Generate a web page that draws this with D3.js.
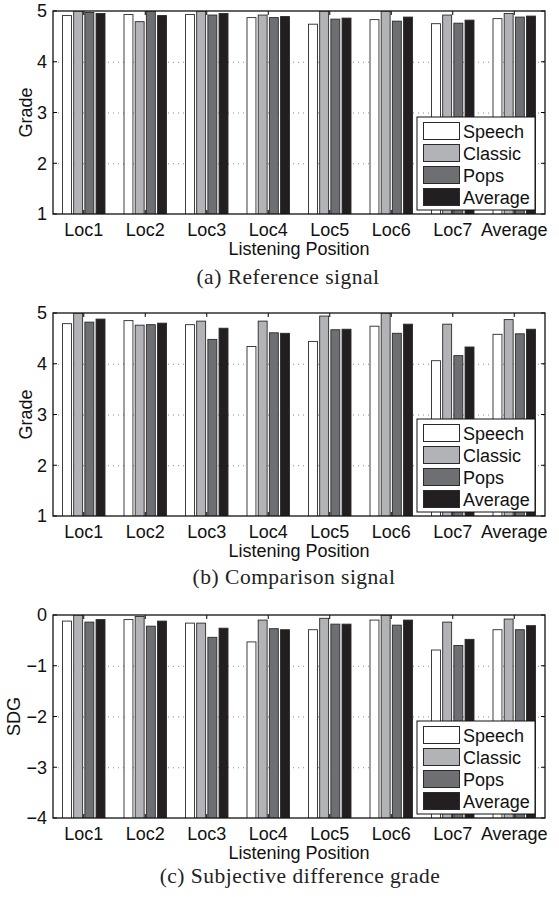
<!DOCTYPE html>
<html>
<head>
<meta charset="utf-8">
<script src="https://cdn.jsdelivr.net/npm/d3@7"></script>
<style>
  html, body { margin: 0; padding: 0; background: #fff; }
  svg { display: block; }
</style>
</head>
<body>
<svg id="chart" width="559" height="897"></svg>
<script>
// ---- data ----
const categories = ["Loc1", "Loc2", "Loc3", "Loc4", "Loc5", "Loc6", "Loc7", "Average"];
const seriesNames = ["Speech", "Classic", "Pops", "Average"];

const refSpeech  = [4.91, 4.93, 4.93, 4.87, 4.74, 4.83, 4.75, 4.85];
const refClassic = [5.00, 4.79, 5.00, 4.92, 5.00, 5.00, 4.92, 4.95];
const refPops    = [4.97, 5.00, 4.92, 4.87, 4.84, 4.80, 4.76, 4.88];
const refAverage = [4.95, 4.91, 4.95, 4.89, 4.86, 4.88, 4.82, 4.90];

const cmpSpeech  = [4.79, 4.85, 4.77, 4.34, 4.44, 4.74, 4.06, 4.58];
const cmpClassic = [5.00, 4.76, 4.84, 4.84, 4.94, 5.00, 4.78, 4.87];
const cmpPops    = [4.82, 4.77, 4.48, 4.61, 4.67, 4.60, 4.16, 4.59];
const cmpAverage = [4.88, 4.80, 4.70, 4.60, 4.68, 4.78, 4.33, 4.68];

const sdgSpeech  = [-0.12, -0.09, -0.16, -0.53, -0.29, -0.10, -0.69, -0.29];
const sdgClassic = [ 0.00, -0.03, -0.16, -0.10, -0.065, 0.00, -0.14, -0.08];
const sdgPops    = [-0.14, -0.22, -0.44, -0.27, -0.18, -0.20, -0.60, -0.29];
const sdgAverage = [-0.09, -0.12, -0.26, -0.29, -0.18, -0.10, -0.48, -0.21];

const gradeTicks = [1, 2, 3, 4, 5];
const sdgTicks = [-4, -3, -2, -1, 0];

const panels = [
  { series: [refSpeech, refClassic, refPops, refAverage], domain: [1, 5], ticks: gradeTicks,
    ylabel: "Grade", ylabelX: 32, caption: "(a) Reference signal", top: 11, capY: 284, capX: 288 },
  { series: [cmpSpeech, cmpClassic, cmpPops, cmpAverage], domain: [1, 5], ticks: gradeTicks,
    ylabel: "Grade", ylabelX: 32, caption: "(b) Comparison signal", top: 313, capY: 584, capX: 294 },
  { series: [sdgSpeech, sdgClassic, sdgPops, sdgAverage], domain: [-4, 0], ticks: sdgTicks,
    ylabel: "SDG", ylabelX: 20, caption: "(c) Subjective difference grade", top: 615, capY: 883, capX: 300 }
];

const colors = ["#ffffff", "#b2b3b7", "#6e6f73", "#231f20"];
const left = 53, right = 545, ph = 203;
const sans = "'Liberation Sans', Arial, Helvetica, sans-serif";
const serif = "'Liberation Serif', 'DejaVu Serif', serif";

const svg = d3.select("#chart");

panels.forEach((p, pi) => {
  const g = svg.append("g").attr("transform", `translate(0,${p.top})`);
  const x0 = d3.scaleBand().domain(categories).range([left, right]).paddingInner(0).paddingOuter(0);
  const bw = x0.bandwidth();
  const gw = 4 / 5.5;
  const x1 = d3.scaleBand().domain(d3.range(4))
    .range([bw * (1 - gw) / 2, bw * (1 + gw) / 2]).paddingInner(0.2).paddingOuter(0.1);
  const y = d3.scaleLinear().domain(p.domain).range([ph, 0]);

  const clipId = "clip" + pi;
  g.append("clipPath").attr("id", clipId).append("rect")
    .attr("x", left).attr("y", 0).attr("width", right - left).attr("height", ph);

  // grid lines
  g.append("g").selectAll("line").data(p.ticks.slice(1, -1)).join("line")
    .attr("x1", left).attr("x2", right)
    .attr("y1", d => y(d) + 0.5).attr("y2", d => y(d) + 0.5)
    .attr("stroke", "#8a8a8a").attr("stroke-width", 1).attr("stroke-dasharray", "1,4");

  // bars (rising from the bottom of the axis)
  const bars = g.append("g").attr("clip-path", `url(#${clipId})`);
  categories.forEach((c, ci) => {
    p.series.forEach((s, si) => {
      const v = s[ci];
      const y0 = y(p.domain[0]), y1v = y(v);
      bars.append("rect")
        .attr("x", x0(c) + x1(si))
        .attr("width", x1.bandwidth())
        .attr("y", Math.min(y0, y1v))
        .attr("height", Math.abs(y0 - y1v) + 1)
        .attr("fill", colors[si])
        .attr("stroke", "#2a2a2a").attr("stroke-width", 0.9);
    });
  });

  // ticks (inside)
  const tk = 4;
  const tg = g.append("g").attr("stroke", "#000").attr("stroke-width", 1);
  categories.forEach(c => {
    const cx = x0(c) + bw / 2;
    tg.append("line").attr("x1", cx).attr("x2", cx).attr("y1", 0).attr("y2", tk);
    tg.append("line").attr("x1", cx).attr("x2", cx).attr("y1", ph).attr("y2", ph - tk);
  });
  p.ticks.forEach(t => {
    tg.append("line").attr("x1", left).attr("x2", left + tk).attr("y1", y(t)).attr("y2", y(t));
    tg.append("line").attr("x1", right).attr("x2", right - tk).attr("y1", y(t)).attr("y2", y(t));
  });

  // box
  g.append("rect").attr("x", left).attr("y", 0).attr("width", right - left).attr("height", ph)
    .attr("fill", "none").attr("stroke", "#111").attr("stroke-width", 1.3);

  // y tick labels
  g.append("g").selectAll("text").data(p.ticks).join("text")
    .attr("x", left - 6).attr("y", d => y(d)).attr("dy", "0.35em")
    .attr("text-anchor", "end").attr("font-family", sans).attr("font-size", 18).attr("fill", "#111")
    .text(d => d < 0 ? "\u2212" + Math.abs(d) : d);

  // x tick labels
  g.append("g").selectAll("text").data(categories).join("text")
    .attr("x", d => x0(d) + bw / 2).attr("y", ph + 22)
    .attr("text-anchor", "middle").attr("font-family", sans).attr("font-size", 18).attr("fill", "#111")
    .text(d => d);

  // axis labels
  g.append("text").attr("x", (left + right) / 2).attr("y", ph + 40.5)
    .attr("text-anchor", "middle").attr("font-family", sans).attr("font-size", 18).attr("fill", "#111")
    .text("Listening Position");
  g.append("text").attr("transform", `translate(${p.ylabelX},${ph / 2}) rotate(-90)`)
    .attr("text-anchor", "middle").attr("font-family", sans).attr("font-size", 18).attr("fill", "#111")
    .text(p.ylabel);

  // legend
  const lg = g.append("g").attr("transform", `translate(417,106)`);
  lg.append("rect").attr("x", 0).attr("y", 0).attr("width", 118).attr("height", 93)
    .attr("fill", "#fff").attr("stroke", "#111").attr("stroke-width", 1);
  seriesNames.forEach((n, i) => {
    const cy = 14 + i * 22;
    lg.append("rect").attr("x", 6.5).attr("y", cy - 8.5).attr("width", 36).attr("height", 17)
      .attr("fill", colors[i]).attr("stroke", "#2a2a2a").attr("stroke-width", 1);
    lg.append("text").attr("x", 46).attr("y", cy + 6.5)
      .attr("font-family", sans).attr("font-size", 18).attr("fill", "#111").text(n);
  });

  // caption
  svg.append("text").attr("x", p.capX).attr("y", p.capY)
    .attr("text-anchor", "middle").attr("font-family", serif).attr("font-size", 21.5)
    .attr("letter-spacing", 0.5).attr("fill", "#222")
    .text(p.caption);
});
</script>
</body>
</html>
